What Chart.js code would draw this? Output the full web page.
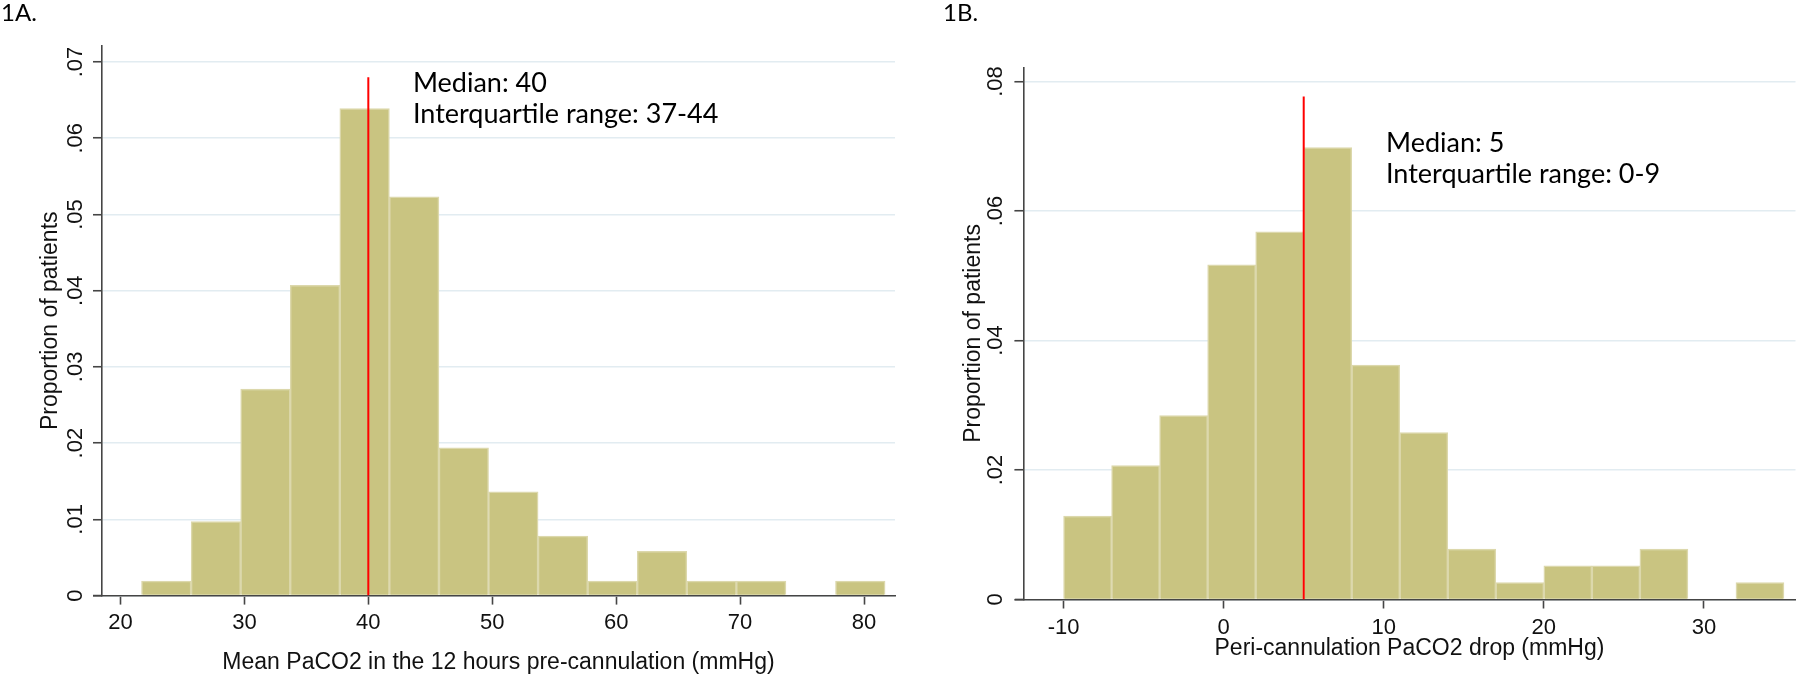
<!DOCTYPE html>
<html><head><meta charset="utf-8">
<script src="https://cdn.jsdelivr.net/npm/chart.js@4.4.1/dist/chart.umd.min.js"></script>
<style>
html,body{margin:0;padding:0;background:#fff;}
#wrap{position:relative;width:1800px;height:681px;overflow:hidden;background:#fff;}
canvas{position:absolute;top:0;}
#cA{left:0;} #cB{left:900px;}
</style></head><body>
<div id="wrap"><canvas id="cA" width="900" height="681"></canvas><canvas id="cB" width="900" height="681"></canvas></div>
<script>
// ---------- Panel 1A ----------
const panelLabelA = '1A.';
const binStartsA = [21.7, 25.7, 29.7, 33.7, 37.7, 41.7, 45.7, 49.7, 53.7, 57.7, 61.7, 65.7, 69.7, 73.7, 77.7];
const binWidthA = 4;
const proportionsA = [0.0019, 0.0097, 0.0271, 0.0407, 0.0639, 0.0523, 0.0194, 0.0136, 0.0078, 0.0019, 0.0058, 0.0019, 0.0019, 0, 0.0019];
const xTicksA = [20, 30, 40, 50, 60, 70, 80];
const yTicksA = [0, 0.01, 0.02, 0.03, 0.04, 0.05, 0.06, 0.07];
const xRangeA = [18.51, 82.5];
const yRangeA = [0, 0.0721];
const medianA = 40;
const medianTopA = 0.068;
const notesA = ['Median: 40', 'Interquartile range: 37-44'];
const notesPosA = [43.6, 0.066];
const xTitleA = 'Mean PaCO2 in the 12 hours pre-cannulation (mmHg)';
const yTitle = 'Proportion of patients';

// ---------- Panel 1B ----------
const panelLabelB = '1B.';
const binStartsB = [-10, -7, -4, -1, 2, 5, 8, 11, 14, 17, 20, 23, 26, 29, 32];
const binWidthB = 3;
const proportionsB = [0.0129, 0.0207, 0.0284, 0.0517, 0.0568, 0.0698, 0.0362, 0.0258, 0.0078, 0.0026, 0.0052, 0.0052, 0.0078, 0, 0.0026];
const xTicksB = [-10, 0, 10, 20, 30];
const yTicksB = [0, 0.02, 0.04, 0.06, 0.08];
const xRangeB = [-12.51, 35.72];
const yRangeB = [0, 0.0822];
const medianB = 5;
const medianTopB = 0.0777;
const notesB = ['Median: 5', 'Interquartile range: 0-9'];
const notesPosB = [10.14, 0.0691];
const xTitleB = 'Peri-cannulation PaCO2 drop (mmHg)';

// ---------- styles ----------
const BAR_FILL = '#C9C481';
const BAR_EDGE = '#DCD8AC';
const GRID = 'rgb(226,236,241)';
const AXIS = '#454545';
const TXT = '#111';
const SANS = "'Liberation Sans', Arial, sans-serif";
const NOTE_FONT = "27px Lato, 'Open Sans', sans-serif";
const PANEL_FONT = "24px Lato, 'Open Sans', sans-serif";

function fmtY(v) {
  const r = Math.round(v * 100) / 100;
  if (r === 0) return '0';
  return r.toFixed(2).replace(/^0/, '');
}

const annotPlugin = {
  id: 'annot',
  afterDraw(chart, args, o) {
    const ctx = chart.ctx, sx = chart.scales.x, sy = chart.scales.y, ca = chart.chartArea;
    ctx.save();
    ctx.strokeStyle = AXIS; ctx.lineWidth = 1.6;
    ctx.beginPath(); ctx.moveTo(ca.left - o.ext, ca.bottom); ctx.lineTo(ca.left, ca.bottom); ctx.stroke();
    ctx.fillStyle = '#000';
    ctx.textAlign = 'left'; ctx.textBaseline = 'alphabetic';
    ctx.font = NOTE_FONT;
    const px = sx.getPixelForValue(o.pos[0]), py = sy.getPixelForValue(o.pos[1]);
    o.lines.forEach((t, i) => ctx.fillText(t, px, py + i * 30.6));
    ctx.font = PANEL_FONT;
    ctx.fillText(o.panel, o.panelX, 21);
    ctx.restore();
  }
};

function makeChart(id, cfg) {
  const bars = cfg.starts.map((s, i) => ({x: s + cfg.width / 2, y: cfg.vals[i]}));
  return new Chart(document.getElementById(id), {
    type: 'bar',
    data: {
      datasets: [
        {type: 'line', data: [{x: cfg.median, y: 0}, {x: cfg.median, y: cfg.medianTop}],
         borderColor: '#ff0000', borderWidth: 2, pointRadius: 0, order: 0, fill: false},
        {type: 'bar', data: bars, backgroundColor: BAR_FILL, borderColor: BAR_EDGE, borderWidth: 1.5,
         borderSkipped: 'start', barPercentage: 1, categoryPercentage: 1, order: 1}
      ]
    },
    options: {
      responsive: false, animation: false, devicePixelRatio: 1,
      layout: {padding: {top: cfg.top, right: cfg.rightPad, left: 0, bottom: 0}},
      plugins: {legend: {display: false}, tooltip: {enabled: false},
        annot: {lines: cfg.notes, pos: cfg.notesPos, panel: cfg.panel, panelX: cfg.panelX, ext: cfg.ext}},
      scales: {
        x: {
          type: 'linear', min: cfg.xRange[0], max: cfg.xRange[1], offset: false,
          afterBuildTicks: s => { s.ticks = cfg.xTicks.map(v => ({value: v})); },
          afterFit: s => { s.height = 681 - cfg.bottom; },
          grid: {drawOnChartArea: false, drawTicks: true, tickLength: 9, tickColor: AXIS, tickWidth: 1.6, offset: false},
          border: {display: true, color: AXIS, width: 1.6},
          ticks: {font: {family: SANS, size: 22}, color: TXT, padding: cfg.xPad, maxRotation: 0, autoSkip: false,
                  callback: v => String(v)},
          title: {display: true, text: cfg.xTitle, font: {family: SANS, size: 23}, color: TXT,
                  padding: {top: 0, bottom: cfg.xTitlePad}}
        },
        y: {
          type: 'linear', min: cfg.yRange[0], max: cfg.yRange[1],
          afterBuildTicks: s => { s.ticks = cfg.yTicks.map(v => ({value: v})); },
          afterFit: s => { s.width = cfg.left; },
          grid: {color: GRID, lineWidth: 1.5, drawTicks: true, tickLength: 9, tickColor: AXIS, tickWidth: 1.6},
          border: {display: true, color: AXIS, width: 1.6},
          ticks: {font: {family: SANS, size: 22}, color: TXT, padding: cfg.yPad, minRotation: 90, maxRotation: 90,
                  crossAlign: 'center', autoSkip: false, callback: v => fmtY(v)},
          title: {display: true, text: yTitle, font: {family: SANS, size: 23}, color: TXT,
                  padding: {top: cfg.yTitlePad, bottom: 0}}
        }
      }
    },
    plugins: [annotPlugin]
  });
}

makeChart('cA', {
  starts: binStartsA, width: binWidthA, vals: proportionsA, median: medianA, medianTop: medianTopA,
  xRange: xRangeA, yRange: yRangeA, xTicks: xTicksA, yTicks: yTicksA, notes: notesA, notesPos: notesPosA,
  panel: panelLabelA, panelX: 1, xTitle: xTitleA,
  top: 46, bottom: 595.6, left: 102, rightPad: 5, ext: 9,
  xPad: 5.2, xTitlePad: 5, yPad: 1.7, yTitlePad: 36.5
});
makeChart('cB', {
  starts: binStartsB, width: binWidthB, vals: proportionsB, median: medianB, medianTop: medianTopB,
  xRange: xRangeB, yRange: yRangeB, xTicks: xTicksB, yTicks: yTicksB, notes: notesB, notesPos: notesPosB,
  panel: panelLabelB, panelX: 43, xTitle: xTitleB,
  top: 67.3, bottom: 599.5, left: 123.4, rightPad: 4.5, ext: 8.6,
  xPad: 6, xTitlePad: 19, yPad: 3, yTitlePad: 59.7
});
</script>
</body></html>
